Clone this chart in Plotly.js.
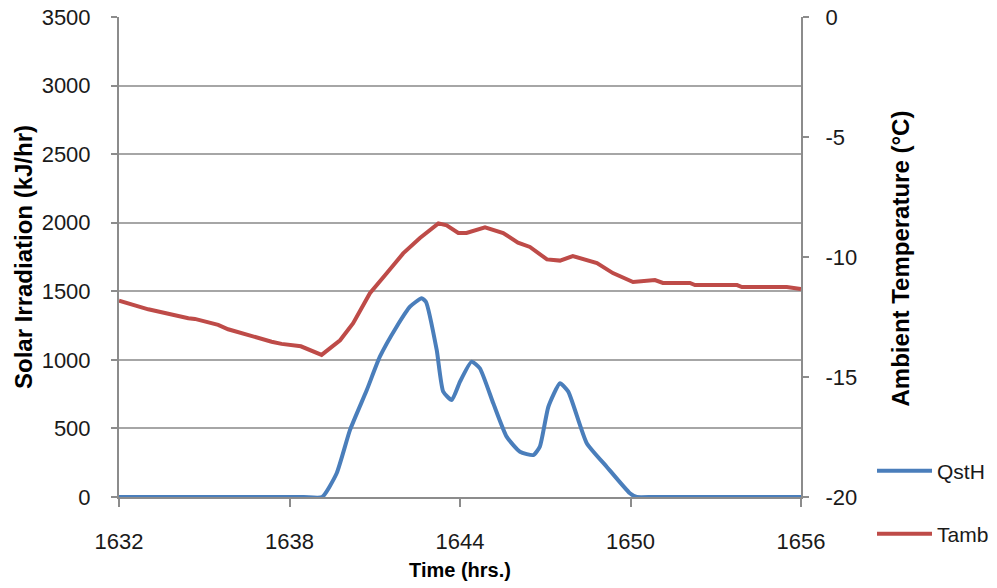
<!DOCTYPE html>
<html>
<head>
<meta charset="utf-8">
<script src="https://cdn.plot.ly/plotly-3.0.1.min.js"></script>
<style>
  html, body { margin: 0; padding: 0; background: #fff; }
  #chart { width: 997px; height: 588px; }
</style>
</head>
<body>
<div id="chart"></div>
<script>
// Solar irradiation on the collector (kJ/hr) against simulation time (hrs.)
const qstTime = [1632, 1636, 1638.5, 1639.15, 1639.66, 1640.13, 1640.72, 1641.18, 1641.77, 1642.24, 1642.65, 1642.8,
                 1643.18, 1643.41, 1643.71, 1644.0, 1644.41, 1644.7, 1645.17, 1645.64, 1646.11, 1646.58,
                 1646.81, 1647.11, 1647.52, 1647.81, 1648.46, 1649.16, 1649.98, 1650.22, 1650.8, 1653, 1656];
const qstH = [0, 0, 0, 0, 173, 489, 780, 1023, 1242, 1388, 1449, 1424,
              1072, 768, 707, 841, 987, 938, 683, 440, 330, 306,
              367, 658, 829, 768, 392, 221, 27, 0, 0, 0, 0];

// Ambient temperature (°C) against simulation time (hrs.)
const tambTime = [1632.0, 1633.03, 1634.44, 1634.67, 1635.49, 1635.84, 1637.37, 1637.72, 1638.4, 1639.13,
                  1639.42, 1639.78, 1640.24, 1640.83, 1641.42, 1642.0, 1642.59, 1643.24, 1643.53, 1643.94,
                  1644.23, 1644.88, 1645.52, 1646.04, 1646.46, 1647.06, 1647.52, 1647.97, 1648.82, 1649.38,
                  1650.09, 1650.58, 1650.86, 1651.14, 1652.09, 1652.27, 1653.75, 1653.92, 1655.5, 1656.0];
const tamb = [-11.82, -12.18, -12.55, -12.58, -12.83, -13.01, -13.53, -13.62, -13.72, -14.08,
              -13.81, -13.47, -12.76, -11.51, -10.68, -9.85, -9.21, -8.6, -8.68, -9.0,
              -9.0, -8.76, -9.0, -9.4, -9.58, -10.1, -10.15, -9.96, -10.25, -10.67,
              -11.04, -11.0, -10.96, -11.08, -11.08, -11.17, -11.17, -11.25, -11.25, -11.33];

// Axis ticks
const timeTicks = [1632, 1638, 1644, 1650, 1656];
const irrTicks = [0, 500, 1000, 1500, 2000, 2500, 3000, 3500];
const tempTicks = [-20, -15, -10, -5, 0];

const FONT = 'Liberation Sans, Arial, sans-serif';
const TXT = '#1a1a1a';
const GRID = '#a6a6a6';
const AXIS = '#8c8c8c';
const TICK_SIZE = 22;
const TITLE_FONT = { family: FONT, size: 24, color: '#000', weight: 'bold' };

const traces = [
  {
    x: qstTime, y: qstH, name: 'QstH', type: 'scatter', mode: 'lines',
    line: { color: '#4a7ebb', width: 4, shape: 'spline', smoothing: 0.5 },
    yaxis: 'y', legend: 'legend'
  },
  {
    x: tambTime, y: tamb, name: 'Tamb', type: 'scatter', mode: 'lines',
    line: { color: '#be4b48', width: 4 },
    yaxis: 'y2', legend: 'legend2'
  }
];

const legendBase = {
  xref: 'container', yref: 'container', xanchor: 'left', yanchor: 'middle',
  bgcolor: 'rgba(0,0,0,0)', borderwidth: 0, itemwidth: 55,
  font: { family: FONT, size: 21, color: TXT }
};

const layout = {
  width: 997, height: 588,
  margin: { l: 119, r: 196, t: 17, b: 91 },
  paper_bgcolor: '#ffffff', plot_bgcolor: '#ffffff',
  font: { family: FONT, size: TICK_SIZE, color: TXT },
  xaxis: {
    range: [1632, 1656], tickvals: timeTicks, ticktext: timeTicks.map(String),
    showgrid: false, zeroline: false,
    showline: true, linecolor: AXIS, linewidth: 2,
    ticks: 'outside', ticklen: 8, tickwidth: 2, tickcolor: AXIS,
    ticklabelstandoff: 16, layer: 'below traces',
    tickfont: { family: FONT, size: TICK_SIZE, color: TXT },
    title: { text: 'Time (hrs.)', standoff: 10, font: { family: FONT, size: 20, color: '#000', weight: 'bold' } },
    automargin: false
  },
  yaxis: {
    range: [0, 3500], tickvals: irrTicks,
    showgrid: true, gridcolor: GRID, gridwidth: 2, zeroline: false,
    showline: true, linecolor: AXIS, linewidth: 2,
    ticks: 'outside', ticklen: 6, tickwidth: 2, tickcolor: AXIS,
    ticklabelstandoff: 16, layer: 'below traces',
    tickfont: { family: FONT, size: TICK_SIZE, color: TXT },
    title: { text: 'Solar Irradiation (kJ/hr)', standoff: 2, font: TITLE_FONT },
    automargin: false
  },
  yaxis2: {
    overlaying: 'y', side: 'right',
    range: [-20, 0], tickvals: tempTicks, ticktext: tempTicks.map(String),
    showgrid: false, zeroline: false,
    showline: true, linecolor: AXIS, linewidth: 2,
    ticks: 'outside', ticklen: 6, tickwidth: 2, tickcolor: AXIS,
    ticklabelstandoff: 12, layer: 'below traces',
    tickfont: { family: FONT, size: TICK_SIZE, color: TXT },
    automargin: false
  },
  // right-hand axis title, set further out than Plotly places it by default
  annotations: [{
    text: 'Ambient Temperature (°C)', textangle: -90,
    xref: 'paper', yref: 'paper', x: 1.1452, y: 0.497,
    xanchor: 'center', yanchor: 'middle', showarrow: false,
    font: TITLE_FONT
  }],
  legend: Object.assign({}, legendBase, { x: 872 / 997, y: 1 - 471 / 588 }),
  legend2: Object.assign({}, legendBase, { x: 872 / 997, y: 1 - 534 / 588 }),
  showlegend: true
};

Plotly.newPlot('chart', traces, layout, { displayModeBar: false, staticPlot: true });
</script>
</body>
</html>
